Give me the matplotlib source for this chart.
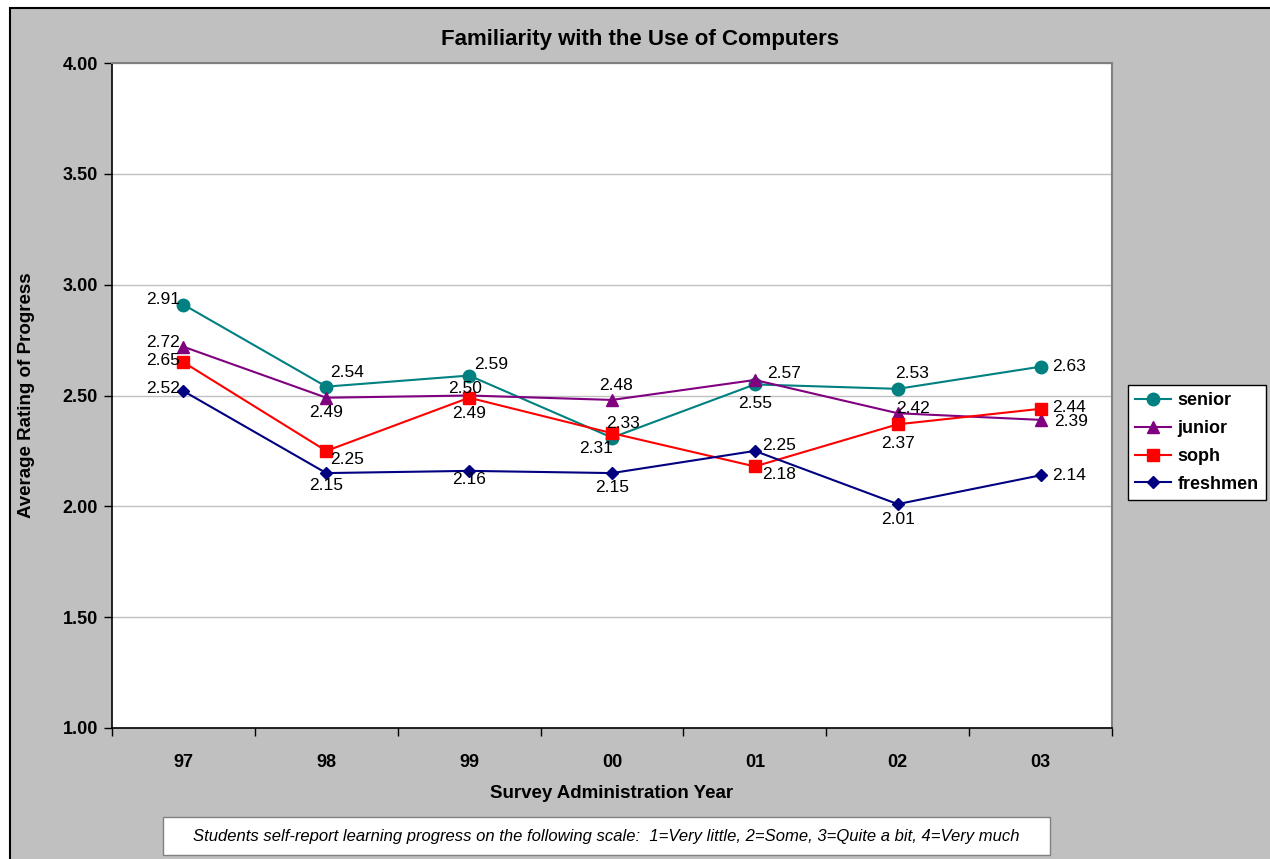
import numpy as np
import matplotlib.pyplot as plt
from matplotlib.patches import Rectangle

plt.rcParams['font.family'] = ['Liberation Sans', 'DejaVu Sans']

years = ['97', '98', '99', '00', '01', '02', '03']
senior = [2.91, 2.54, 2.59, 2.31, 2.55, 2.53, 2.63]
junior = [2.72, 2.49, 2.50, 2.48, 2.57, 2.42, 2.39]
soph = [2.65, 2.25, 2.49, 2.33, 2.18, 2.37, 2.44]
freshmen = [2.52, 2.15, 2.16, 2.15, 2.25, 2.01, 2.14]

# label offsets in pixels (dx, dy) for each point
off_senior = [(-20, 5), (21, 14), (22, 11), (-16, -11), (0, -19), (14, 15), (28, 0)]
off_junior = [(-20, 4), (0, -15), (-4, 7), (4, 14), (29, 6), (15, 5), (30, -2)]
off_soph = [(-20, 2), (21, -9), (0, -16), (11, 10), (24, -8), (0, -19), (28, 1)]
off_fresh = [(-20, 3), (0, -12), (0, -9), (0, -14), (24, 5), (0, -15), (28, 0)]

series = [
    ('senior', senior, '#008080', 'o', 9, off_senior),
    ('junior', junior, '#800080', '^', 9, off_junior),
    ('soph', soph, '#FF0000', 's', 8.5, off_soph),
    ('freshmen', freshmen, '#000080', 'D', 6.5, off_fresh),
]

fig = plt.figure(figsize=(12.70, 8.59), dpi=100)
fig.patch.set_facecolor('white')
fig.patches.append(Rectangle((10 / 1270, -0.01), 1.05, (859 - 8) / 859 + 0.01,
                             transform=fig.transFigure, facecolor='#c0c0c0',
                             edgecolor='black', linewidth=1.5, zorder=-10))

ax = fig.add_axes([112 / 1270, 131 / 859, 1000 / 1270, 665 / 859])
ax.set_facecolor('white')
x = np.arange(len(years))

for name, vals, col, mk, ms, offs in series:
    ax.plot(x, vals, color=col, marker=mk, markersize=ms, linewidth=1.5,
            label=name, zorder=3)
    for xi, v, (dx, dy) in zip(x, vals, offs):
        ax.annotate(f'{v:.2f}', (xi, v), xytext=(dx, dy), textcoords='offset pixels',
                    ha='center', va='center', fontsize=12.5, color='black', zorder=4)

ax.set_xlim(-0.5, 6.5)
ax.set_ylim(1.0, 4.0)
ax.set_yticks(np.arange(1.0, 4.01, 0.5))
ax.set_yticklabels([f'{t:.2f}' for t in np.arange(1.0, 4.01, 0.5)],
                   fontsize=13, fontweight='bold')
ax.set_xticks(x)
ax.set_xticklabels(years, fontsize=13, fontweight='bold')
ax.set_xticks(np.arange(-0.5, 6.6, 1.0), minor=True)
ax.tick_params(axis='x', which='major', length=0, pad=19)
ax.tick_params(axis='x', which='minor', length=6, direction='out', width=1)
ax.tick_params(axis='y', which='major', length=6, direction='out', width=1, pad=4)
ax.grid(axis='y', color='#c0c0c0', linewidth=1, zorder=0)
ax.set_axisbelow(True)

for s in ['left', 'bottom']:
    ax.spines[s].set_color('black')
    ax.spines[s].set_linewidth(1.2)
for s in ['top', 'right']:
    ax.spines[s].set_color('#808080')
    ax.spines[s].set_linewidth(1.5)

ax.set_xlabel('Survey Administration Year', fontsize=13.5, fontweight='bold', labelpad=10)
ax.set_ylabel('Average Rating of Progress', fontsize=13.5, fontweight='bold', labelpad=20)

fig.text(640 / 1270, 1 - 40 / 859, 'Familiarity with the Use of Computers',
         ha='center', va='center', fontsize=16, fontweight='bold')

leg = fig.legend(loc='upper left', bbox_to_anchor=(1128 / 1270, 1 - 385 / 859),
                 frameon=True, fancybox=False, edgecolor='black', framealpha=1,
                 prop={'weight': 'bold', 'size': 13}, handlelength=2.0,
                 borderpad=0.4, labelspacing=0.6, handletextpad=0.35,
                 borderaxespad=0)
leg.get_frame().set_linewidth(1)

# note box under the axis title
fig.patches.append(Rectangle((163 / 1270, 1 - 855 / 859), 887 / 1270, 38 / 859,
                             transform=fig.transFigure, facecolor='white',
                             edgecolor='#808080', linewidth=1, zorder=1))
fig.text(606 / 1270, 1 - 836 / 859,
         'Students self-report learning progress on the following scale:  '
         '1=Very little, 2=Some, 3=Quite a bit, 4=Very much',
         ha='center', va='center', fontsize=12, style='italic', zorder=2)

fig.savefig('out.png', dpi=100)
